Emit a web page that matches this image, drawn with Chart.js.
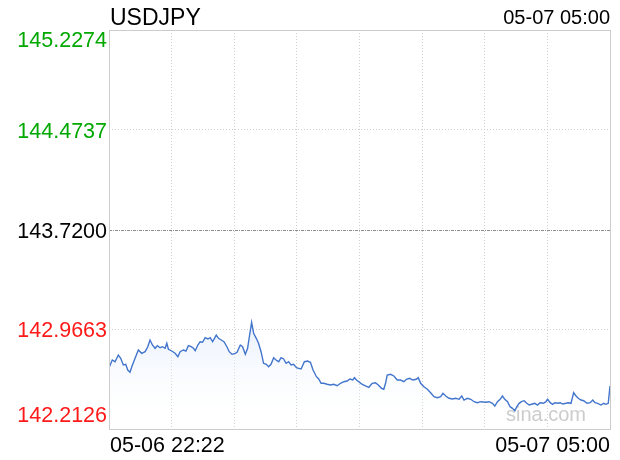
<!DOCTYPE html>
<html><head><meta charset="utf-8">
<script src="https://cdn.jsdelivr.net/npm/chart.js@4/dist/chart.umd.min.js"></script>
<style>html,body{margin:0;padding:0;background:#fff}canvas{display:block}</style>
</head><body>
<canvas id="c" width="620" height="460"></canvas>
<script>
const symbol = "USDJPY";
const startLabel = "05-06 22:22";
const endLabel = "05-07 05:00";
const watermark = "sina.com";
const prevClose = 143.7200;
const yTicks = [142.2126, 142.9663, 143.7200, 144.4737, 145.2274];
const totalMinutes = 398;
// minutes since 05-06 22:22
const minutes = [0,2.6,4.8,7.4,9.3,11.4,13.3,14.9,16.7,18.1,20.7,23.3,26.0,28.7,30.8,32.6,34.5,36.6,38.4,40.6,42.4,44.6,45.9,47.2,49.9,52.5,54.7,56.5,59.1,61.1,63.1,65.3,67.1,68.5,70.6,72.4,74.3,76.4,78.6,80.4,82.3,83.8,85.2,87.0,89.2,91.3,93.7,95.5,97.7,100.3,101.7,104.3,106.1,108.3,110.1,111.7,113.3,114.9,117.0,118.8,120.8,122.8,125.0,126.8,128.7,130.8,132.7,134.8,136.7,138.7,140.7,142.7,144.6,146.7,148.9,150.7,152.6,155.2,157.8,160.0,162.1,164.8,166.6,168.5,170.6,173.3,175.9,178.5,181.3,183.9,186.5,189.2,191.3,193.7,195.0,196.6,201.2,203.8,206.4,209.1,211.7,213.9,216.5,218.3,219.7,221.0,223.7,226.3,229.0,231.6,234.3,236.2,238.8,241.4,244.1,245.7,247.6,250.2,252.9,255.5,258.2,260.8,263.5,265.3,267.5,270.1,272.8,275.4,278.1,280.2,282.0,284.7,287.4,290.0,292.7,295.3,299.3,301.9,304.6,306.5,308.6,310.7,312.6,314.4,316.6,318.6,320.5,322.4,324.0,325.8,327.7,329.8,331.9,333.8,336.5,338.3,340.4,342.5,345.2,347.1,348.4,350.5,352.4,354.2,356.4,358.4,360.4,363.0,364.8,367.0,369.1,371.0,372.8,375.0,377.1,379.7,382.3,384.3,386.1,388.2,390.8,393.0,394.8,396.6,398];
const prices = [142.6758,142.7340,142.7211,142.7717,142.7468,142.6962,142.7015,142.6584,142.6410,142.6833,142.7468,142.8095,142.7846,142.7967,142.8344,142.8851,142.8473,142.8224,142.8420,142.8269,142.8344,142.8224,142.8601,142.8148,142.8020,142.7846,142.7589,142.7967,142.8095,142.8020,142.8420,142.8344,142.8224,142.8042,142.8473,142.8722,142.8677,142.9024,142.8926,142.9024,142.8722,142.8979,142.9229,142.8979,142.8851,142.8722,142.8344,142.7967,142.7770,142.7846,142.7922,142.8473,142.8344,142.7770,142.8224,142.9229,143.0188,142.9357,142.8979,142.8601,142.7967,142.7090,142.7015,142.6833,142.7015,142.7513,142.7340,142.7211,142.7513,142.7415,142.7090,142.7211,142.6962,142.7015,142.6758,142.6712,142.6659,142.7211,142.7264,142.7166,142.6584,142.6078,142.5904,142.5579,142.5579,142.5504,142.5451,142.5504,142.5398,142.5579,142.5700,142.5753,142.5904,142.5828,142.6002,142.5828,142.5504,142.5382,142.5277,142.5579,142.5624,142.5451,142.5201,142.5126,142.5579,142.6206,142.6259,142.6131,142.5828,142.5828,142.5700,142.5881,142.5957,142.5828,142.5881,142.6002,142.5579,142.5322,142.5126,142.4869,142.4566,142.4491,142.4566,142.4823,142.4619,142.4445,142.4393,142.4445,142.4370,142.4619,142.4317,142.4445,142.4370,142.4189,142.4113,142.4189,142.4143,142.4189,142.4068,142.3864,142.4189,142.4370,142.4619,142.4370,142.4189,142.3811,142.3690,142.3509,142.3811,142.4068,142.4189,142.4264,142.4068,142.3939,142.4015,142.4068,142.3939,142.4113,142.4068,142.4189,142.4370,142.4113,142.3992,142.4113,142.4068,142.4113,142.4015,142.4068,142.4113,142.4068,142.4869,142.4619,142.4445,142.4317,142.4264,142.4068,142.4113,142.4317,142.4113,142.4068,142.3939,142.4068,142.3992,142.4068,142.5375];

const FONT = '"Liberation Sans", Arial, Helvetica, sans-serif';
const points = minutes.map((m, i) => ({x: m, y: prices[i]}));

const textPlugin = {
  id: 'texts',
  beforeDatasetsDraw(chart) {
    const {ctx, chartArea: a, scales: {y}} = chart;
    ctx.save();
    // previous-close reference line (dash-dot)
    const py = Math.round(y.getPixelForValue(prevClose)) + 0.5;
    ctx.strokeStyle = '#8c8c8c';
    ctx.lineWidth = 1;
    ctx.setLineDash([3, 1, 1, 1]);
    ctx.beginPath();
    ctx.moveTo(a.left, py);
    ctx.lineTo(a.right, py);
    ctx.stroke();
    ctx.setLineDash([]);
    ctx.fillStyle = '#c8c8c8';
    ctx.font = '20px ' + FONT;
    ctx.textAlign = 'left';
    ctx.textBaseline = 'alphabetic';
    ctx.fillText(watermark, 506, 421);
    ctx.restore();
  },
  afterDraw(chart) {
    const {ctx, chartArea: a, scales: {y}} = chart;
    ctx.save();
    ctx.strokeStyle = '#cccccc';
    ctx.lineWidth = 1;
    ctx.setLineDash([]);
    ctx.strokeRect(Math.round(a.left) + 0.5, Math.round(a.top) + 0.5, Math.round(a.right - a.left), Math.round(a.bottom - a.top));
    ctx.fillStyle = '#000';
    ctx.textBaseline = 'alphabetic';
    ctx.font = '23px ' + FONT;
    ctx.textAlign = 'left';
    ctx.fillText(symbol, a.left + 1, 25);
    ctx.font = '20px ' + FONT;
    ctx.textAlign = 'right';
    ctx.fillText(endLabel, a.right, 24);
    ctx.font = '21.5px ' + FONT;
    ctx.textAlign = 'left';
    ctx.fillText(startLabel, a.left + 1, 452);
    ctx.textAlign = 'right';
    ctx.fillText(endLabel, a.right, 452);
    ctx.textAlign = 'right';
    yTicks.forEach((v, i) => {
      const py = y.getPixelForValue(v);
      ctx.fillStyle = v > prevClose + 1e-9 ? '#00a800' : (v < prevClose - 1e-9 ? '#ff1a1a' : '#000');
      let base;
      if (i === yTicks.length - 1) base = py + 17;
      else if (i === 0) base = py - 7;
      else base = py + 8;
      ctx.fillText(v.toFixed(4), a.left - 2, base);
    });
    ctx.restore();
  }
};

const ctx = document.getElementById('c').getContext('2d');
new Chart(ctx, {
  type: 'line',
  data: {
    datasets: [{
      data: points,
      borderColor: '#4275cc',
      borderWidth: 1.4,
      pointRadius: 0,
      tension: 0,
      fill: 'start',
      backgroundColor: (c) => {
        const area = c.chart.chartArea;
        if (!area) return 'rgba(230,238,252,0.6)';
        const g = c.chart.ctx.createLinearGradient(0, 320, 0, area.bottom);
        g.addColorStop(0, 'rgba(222,232,250,0.7)');
        g.addColorStop(1, 'rgba(255,255,255,0)');
        return g;
      }
    }]
  },
  options: {
    responsive: false,
    animation: false,
    events: [],
    layout: {padding: {left: 109, right: 10, top: 30, bottom: 31}},
    plugins: {legend: {display: false}, tooltip: {enabled: false}, title: {display: false}},
    scales: {
      x: {
        type: 'linear', min: 0, max: totalMinutes,
        afterBuildTicks: (s) => { s.ticks = Array.from({length: 9}, (_, i) => ({value: totalMinutes * i / 8})); },
        ticks: {display: false},
        border: {display: false, dash: [1, 2]},
        grid: {drawTicks: false, color: '#cfcfcf', lineWidth: 1}
      },
      y: {
        min: yTicks[0], max: yTicks[yTicks.length - 1],
        afterBuildTicks: (s) => { s.ticks = yTicks.map(v => ({value: v})); },
        ticks: {display: false},
        border: {display: false, dash: [1, 2]},
        grid: {
          drawTicks: false,
          color: (c) => Math.abs(c.tick.value - prevClose) < 1e-9 ? 'rgba(0,0,0,0)' : '#cfcfcf',
          lineWidth: 1
        }
      }
    }
  },
  plugins: [textPlugin]
});
</script>
</body></html>
